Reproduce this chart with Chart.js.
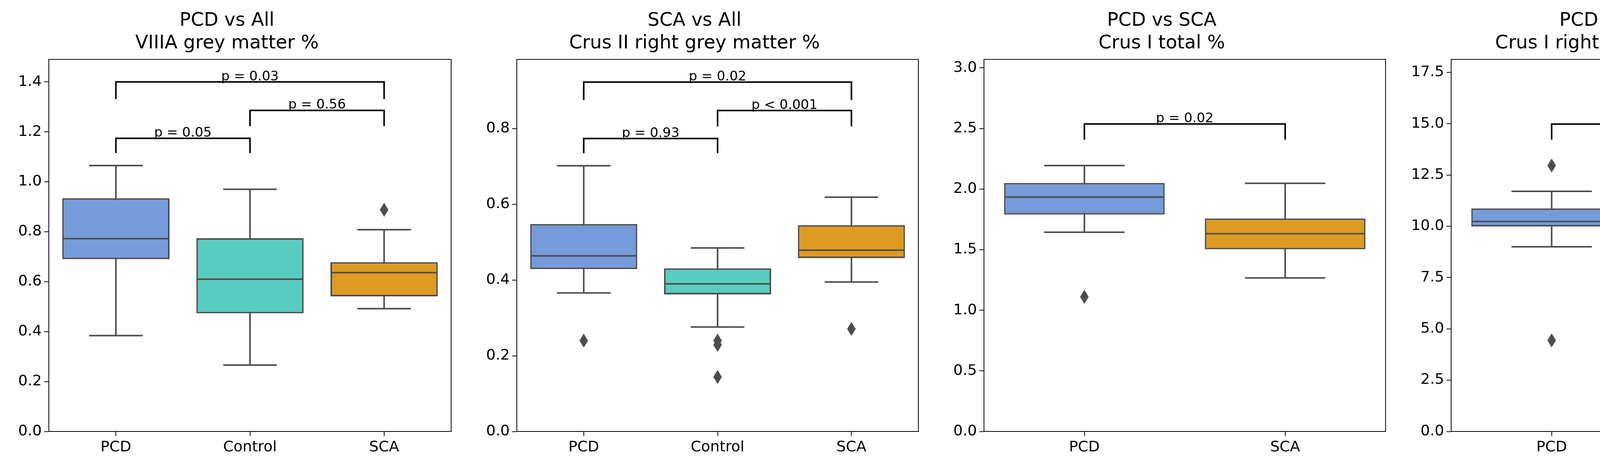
<!DOCTYPE html>
<html lang="en">
  <head>
    <meta charset="UTF-8" />
    <title>Cerebellar volumes</title>
    <script src="https://cdn.jsdelivr.net/npm/chart.js"></script>
    <style>
      body { margin: 0; background: #fff; width: 5969px; height: 1173px; overflow: hidden; }
      .panel { position: absolute; top: 0; height: 1173px; }
    </style>
  </head>
  <body>
    <script>
      // ---- data ----
      const p1Title = ["PCD vs All", "VIIIA grey matter %"];
      const p1Categories = ["PCD", "Control", "SCA"];
      const p1Low = [0.384, 0.266, 0.492];
      const p1Q1 = [0.69, 0.473, 0.541];
      const p1Median = [0.772, 0.61, 0.636];
      const p1Q3 = [0.934, 0.774, 0.678];
      const p1High = [1.065, 0.97, 0.808];
      const p1Outliers = [[], [], [0.888]];
      const p1YTicks = [0, 0.2, 0.4, 0.6, 0.8, 1.0, 1.2, 1.4];
      const p1Brackets = [
        { from: 0, to: 1, y: 1.174, tip: 1.115, text: "p = 0.05" },
        { from: 1, to: 2, y: 1.286, tip: 1.223, text: "p = 0.56" },
        { from: 0, to: 2, y: 1.4, tip: 1.331, text: "p = 0.03" },
      ];

      const p2Title = ["SCA vs All", "Crus II right grey matter %"];
      const p2Categories = ["PCD", "Control", "SCA"];
      const p2Low = [0.366, 0.276, 0.395];
      const p2Q1 = [0.429, 0.362, 0.458];
      const p2Median = [0.464, 0.39, 0.479];
      const p2Q3 = [0.548, 0.431, 0.545];
      const p2High = [0.702, 0.485, 0.619];
      const p2Outliers = [[0.24], [0.24, 0.229, 0.144], [0.271]];
      const p2YTicks = [0, 0.2, 0.4, 0.6, 0.8];
      const p2Brackets = [
        { from: 0, to: 1, y: 0.774, tip: 0.735, text: "p = 0.93" },
        { from: 1, to: 2, y: 0.848, tip: 0.806, text: "p < 0.001" },
        { from: 0, to: 2, y: 0.923, tip: 0.876, text: "p = 0.02" },
      ];

      const p3Title = ["PCD vs SCA", "Crus I total %"];
      const p3Categories = ["PCD", "SCA"];
      const p3Low = [1.644, 1.267];
      const p3Q1 = [1.79, 1.503];
      const p3Median = [1.934, 1.632];
      const p3Q3 = [2.051, 1.758];
      const p3High = [2.194, 2.048];
      const p3Outliers = [[1.111], []];
      const p3YTicks = [0, 0.5, 1.0, 1.5, 2.0, 2.5, 3.0];
      const p3Brackets = [{ from: 0, to: 1, y: 2.537, tip: 2.408, text: "p = 0.02" }];

      const p4Title = ["PCD vs Control", "Crus I right grey matter cm3"];
      const p4Categories = ["PCD", "Control"];
      const p4Low = [9.0, 5.29];
      const p4Q1 = [9.99, 7.99];
      const p4Median = [10.23, 8.95];
      const p4Q3 = [10.87, 9.99];
      const p4High = [11.7, 12.31];
      const p4Outliers = [[12.96, 4.44], [4.67]];
      const p4YTicks = [0, 2.5, 5.0, 7.5, 10.0, 12.5, 15.0, 17.5];
      const p4Brackets = [{ from: 0, to: 1, y: 14.98, tip: 14.22, text: "p = 0.11" }];

      const p5Title = ["SCA vs Control", "Crus II right grey matter cm3"];
      const p5Categories = ["Control", "SCA"];
      const p5Low = [3.06, 3.9];
      const p5Q1 = [4.42, 5.92];
      const p5Median = [5.04, 6.48];
      const p5Q3 = [5.55, 7.7];
      const p5High = [6.56, 8.99];
      const p5Outliers = [[2.04], []];
      const p5YTicks = [0, 2, 4, 6, 8, 10, 12];
      const p5Brackets = [{ from: 0, to: 1, y: 10.4, tip: 9.87, text: "p < 0.001" }];

      const groupColors = { PCD: "#759bdb", Control: "#58ccbf", SCA: "#de9b22" };
      const edge = "#4d4d4d";
      const font = "'DejaVu Sans', sans-serif";

      // diamond marker like matplotlib 'd'
      const diamond = document.createElement("canvas");
      diamond.width = 22;
      diamond.height = 36;
      (() => {
        const c = diamond.getContext("2d");
        c.fillStyle = edge;
        c.beginPath();
        c.moveTo(11, 0);
        c.lineTo(22, 18);
        c.lineTo(11, 36);
        c.lineTo(0, 18);
        c.closePath();
        c.fill();
      })();

      const boxPlugin = {
        id: "boxParts",
        beforeDatasetsDraw(chart) {
          const s = chart.canvas.$box;
          if (!s) return;
          const x = chart.scales.x, y = chart.scales.y;
          const ctx = chart.ctx;
          const capHalf = x.width / s.categories.length * 0.2;
          ctx.save();
          ctx.strokeStyle = edge;
          ctx.lineWidth = 4;
          s.categories.forEach((c, i) => {
            const cx = x.getPixelForValue(i);
            ctx.beginPath();
            ctx.moveTo(cx, y.getPixelForValue(s.low[i]));
            ctx.lineTo(cx, y.getPixelForValue(s.high[i]));
            [s.low[i], s.high[i]].forEach((v) => {
              ctx.moveTo(cx - capHalf, y.getPixelForValue(v));
              ctx.lineTo(cx + capHalf, y.getPixelForValue(v));
            });
            ctx.stroke();
          });
          ctx.restore();
        },
        afterDatasetsDraw(chart) {
          const s = chart.canvas.$box;
          if (!s) return;
          const x = chart.scales.x, y = chart.scales.y;
          const ctx = chart.ctx;
          const half = x.width / s.categories.length * 0.4;
          ctx.save();
          ctx.strokeStyle = edge;
          ctx.lineWidth = 4;
          s.categories.forEach((c, i) => {
            const cx = x.getPixelForValue(i);
            const my = y.getPixelForValue(s.median[i]);
            ctx.beginPath();
            ctx.moveTo(cx - half + 2, my);
            ctx.lineTo(cx + half - 2, my);
            ctx.stroke();
          });
          // significance brackets
          ctx.strokeStyle = "#000";
          ctx.fillStyle = "#000";
          ctx.lineWidth = 4;
          ctx.font = "34px " + font;
          ctx.textAlign = "center";
          ctx.textBaseline = "bottom";
          s.brackets.forEach((b) => {
            const x1 = x.getPixelForValue(b.from), x2 = x.getPixelForValue(b.to);
            const by = y.getPixelForValue(b.y), ty = y.getPixelForValue(b.tip);
            ctx.beginPath();
            ctx.moveTo(x1, ty);
            ctx.lineTo(x1, by);
            ctx.lineTo(x2, by);
            ctx.lineTo(x2, ty);
            ctx.stroke();
            ctx.fillText(b.text, (x1 + x2) / 2, by + 4);
          });
          // full frame
          const a = chart.chartArea;
          ctx.lineWidth = 2;
          ctx.strokeRect(a.left, a.top, a.right - a.left, a.bottom - a.top);
          ctx.restore();
        },
      };

      function makePanel(left, right, title, categories, low, q1, median, q3, high, outliers, yTicks, yMax, decimals, brackets) {
        const div = document.createElement("div");
        div.className = "panel";
        div.style.left = left - 125 + "px";
        div.style.width = right - left + 125 + 6 + "px";
        const canvas = document.createElement("canvas");
        canvas.$box = { categories, low, median, high, brackets };
        div.appendChild(canvas);
        document.body.appendChild(div);

        const outlierPoints = [];
        outliers.forEach((list, i) => list.forEach((v) => outlierPoints.push({ x: categories[i], y: v })));

        new Chart(canvas.getContext("2d"), {
          type: "bar",
          data: {
            labels: categories,
            datasets: [
              {
                type: "line",
                data: outlierPoints,
                showLine: false,
                pointStyle: diamond,
                pointRadius: 12,
                order: 0,
              },
              {
                data: categories.map((c, i) => [q1[i], q3[i]]),
                backgroundColor: categories.map((c) => groupColors[c]),
                borderColor: edge,
                borderWidth: 4,
                borderSkipped: false,
                categoryPercentage: 1,
                barPercentage: 0.8,
                order: 1,
              },
            ],
          },
          options: {
            responsive: true,
            maintainAspectRatio: false,
            animation: false,
            layout: { padding: { right: 6 } },
            plugins: {
              legend: { display: false },
              tooltip: { enabled: false },
              title: {
                display: true,
                text: title,
                color: "#000",
                font: { size: 48, family: font, weight: "normal", lineHeight: 1.2 },
                padding: { top: 25, bottom: 12 },
              },
            },
            scales: {
              x: {
                afterFit: (sc) => { sc.height = 68; },
                ticks: { color: "#000", font: { size: 38, family: font }, padding: 6 },
                grid: { offset: false, drawOnChartArea: false, color: "#000", tickLength: 12, tickWidth: 2 },
                border: { color: "#000", width: 2 },
              },
              y: {
                min: 0,
                max: yMax,
                afterFit: (sc) => { sc.width = 125; },
                afterBuildTicks: (sc) => { sc.ticks = yTicks.map((v) => ({ value: v })); },
                ticks: {
                  color: "#000",
                  font: { size: 38, family: font },
                  padding: 6,
                  callback: (v) => Number(v).toFixed(decimals),
                },
                grid: { drawOnChartArea: false, color: "#000", tickLength: 12, tickWidth: 2 },
                border: { color: "#000", width: 2 },
              },
            },
          },
          plugins: [boxPlugin],
        });
      }

      makePanel(125, 1162, p1Title, p1Categories, p1Low, p1Q1, p1Median, p1Q3, p1High, p1Outliers, p1YTicks, 1.49, 1, p1Brackets);
      makePanel(1323, 2358, p2Title, p2Categories, p2Low, p2Q1, p2Median, p2Q3, p2High, p2Outliers, p2YTicks, 0.983, 1, p2Brackets);
      makePanel(2519, 3554, p3Title, p3Categories, p3Low, p3Q1, p3Median, p3Q3, p3High, p3Outliers, p3YTicks, 3.07, 1, p3Brackets);
      makePanel(3715, 4751, p4Title, p4Categories, p4Low, p4Q1, p4Median, p4Q3, p4High, p4Outliers, p4YTicks, 18.13, 1, p4Brackets);
      makePanel(4912, 5946, p5Title, p5Categories, p5Low, p5Q1, p5Median, p5Q3, p5High, p5Outliers, p5YTicks, 12.58, 0, p5Brackets);
    </script>
  </body>
</html>
